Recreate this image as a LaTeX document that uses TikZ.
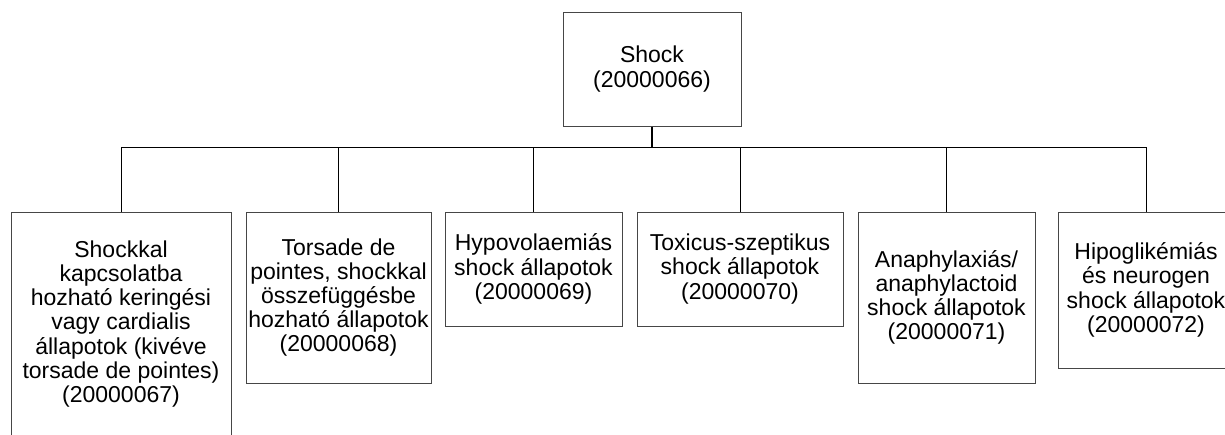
\documentclass[tikz,border=0pt]{standalone}
\usepackage{fontspec}
\setmainfont{Liberation Sans}

\begin{document}
\begin{tikzpicture}[x=1pt,y=-1pt]
        \tikzstyle{every node}=[font=\fontsize{23}{24.2}\selectfont]
        \tikzstyle{catbox}=[draw={rgb,255:red,70; green,70; blue,70}, line width=1pt, inner sep=0pt, align=center]
        \tikzstyle{link}=[line width=1pt, color=black]
        \useasboundingbox (0,0) rectangle (1225,434);
        \clip (0,0) rectangle (1225,434);
        \node [catbox, minimum width=178, minimum height=114] (root) at (652,69) {Shock\\(20000066)};
        \coordinate (bar) at (652,147);
        \node [catbox, minimum width=220, minimum height=224] (c1) at (121,324) {Shockkal\\kapcsolatba\\hozható keringési\\vagy cardialis\\állapotok (kivéve\\torsade de pointes)\\(20000067)};
        \node [catbox, minimum width=185, minimum height=171] (c2) at (338.5,297.5) {Torsade de\\pointes, shockkal\\összefüggésbe\\hozható állapotok\\(20000068)};
        \node [catbox, minimum width=177, minimum height=114] (c3) at (533.5,269) {Hypovolaemiás\\shock állapotok\\(20000069)};
        \node [catbox, minimum width=206, minimum height=114] (c4) at (740,269) {Toxicus-szeptikus\\shock állapotok\\(20000070)};
        \node [catbox, minimum width=177, minimum height=171] (c5) at (946.5,297.5) {Anaphylaxiás/\\anaphylactoid\\shock állapotok\\(20000071)};
        \node [catbox, minimum width=176, minimum height=156] (c6) at (1146,290) {Hipoglikémiás\\és neurogen\\shock állapotok\\(20000072)};
        \draw [link, line width=1.6pt] (root.south) -- (bar);
        \draw [link] (bar) -| (c1.north);
        \draw [link] (bar) -| (c2.north);
        \draw [link] (bar) -| (c3.north);
        \draw [link] (bar) -| (c4.north);
        \draw [link] (bar) -| (c5.north);
        \draw [link] (bar) -| (c6.north);
    \end{tikzpicture}
\end{document}
